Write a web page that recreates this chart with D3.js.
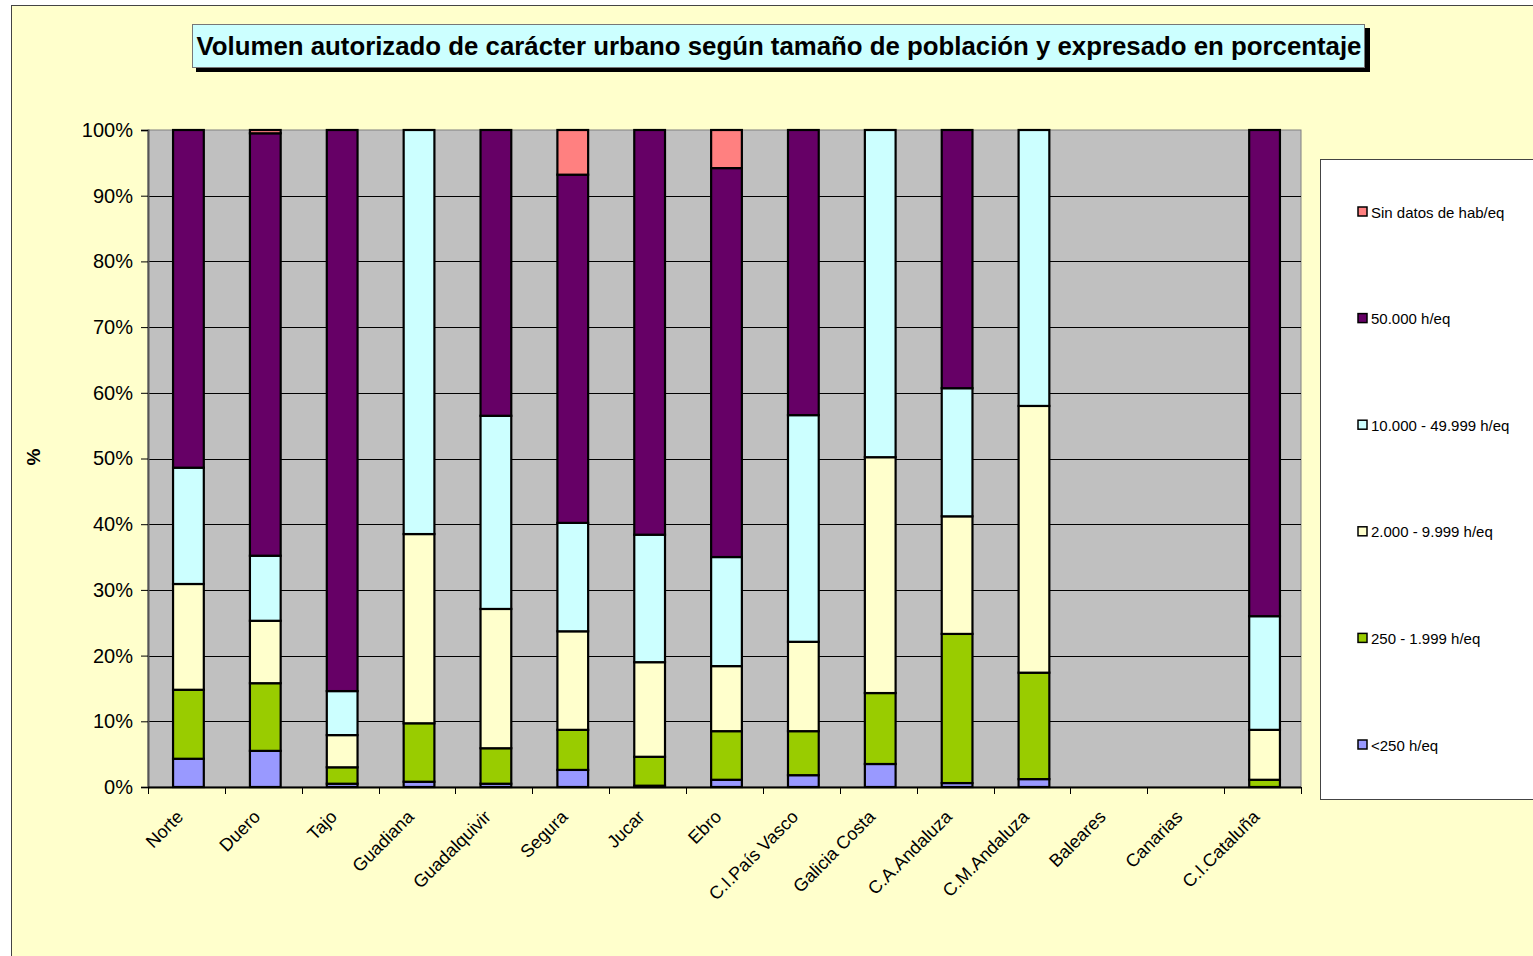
<!DOCTYPE html>
<html>
<head>
<meta charset="utf-8">
<script src="https://cdn.jsdelivr.net/npm/d3@7"></script>
<style>
  body { margin: 0; background: #fff; }
  text { font-family: Arial, "Liberation Sans", sans-serif; }
</style>
</head>
<body>
<script>
// Volumen autorizado de caracter urbano, % por tamano de poblacion

var categories = ["Norte", "Duero", "Tajo", "Guadiana", "Guadalquivir", "Segura", "Jucar", "Ebro",
  "C.I.País Vasco", "Galicia Costa", "C.A.Andaluza", "C.M.Andaluza", "Baleares", "Canarias", "C.I.Cataluña"];

var seriesNames = ["<250 h/eq", "250 - 1.999 h/eq", "2.000 - 9.999 h/eq", "10.000 - 49.999 h/eq", "50.000 h/eq", "Sin datos de hab/eq"];
var seriesColors = ["#9999FF", "#99CC00", "#FFFFCC", "#CCFFFF", "#660066", "#FF8080"];

// values per series, one per category (percent)
var menos250   = [4.3, 5.5, 0.5, 0.8, 0.5, 2.6, 0.2, 1.1, 1.8, 3.5, 0.6, 1.2, 0, 0, 0];
var de250      = [10.5, 10.3, 2.5, 8.9, 5.4, 6.1, 4.4, 7.4, 6.7, 10.8, 22.7, 16.2, 0, 0, 1.1];
var de2000     = [16.1, 9.5, 4.9, 28.8, 21.2, 15.0, 14.4, 9.9, 13.6, 35.9, 17.9, 40.6, 0, 0, 7.6];
var de10000    = [17.7, 9.9, 6.7, 61.5, 29.4, 16.5, 19.4, 16.6, 34.5, 49.8, 19.5, 42.0, 0, 0, 17.3];
var mas50000   = [51.4, 64.3, 85.4, 0, 43.5, 53.0, 61.6, 59.2, 43.4, 0, 39.3, 0, 0, 0, 74.0];
var sinDatos   = [0, 0.5, 0, 0, 0, 6.8, 0, 5.8, 0, 0, 0, 0, 0, 0, 0];

var yTicks = [0, 10, 20, 30, 40, 50, 60, 70, 80, 90, 100];

var width = 1533, height = 956;
var plot = {left: 148, top: 130, right: 1301, bottom: 787};

var svg = d3.select("body").append("svg")
  .attr("width", width)
  .attr("height", height);

// chart area background
svg.append("rect")
  .attr("x", 11.5).attr("y", 5.5)
  .attr("width", width + 20).attr("height", height + 20)
  .attr("fill", "#FFFFCC")
  .attr("stroke", "#444").attr("stroke-width", 1);

// title box with shadow
svg.append("rect")
  .attr("x", 196).attr("y", 28)
  .attr("width", 1174).attr("height", 44)
  .attr("fill", "#000");
svg.append("rect")
  .attr("x", 192.5).attr("y", 24.5)
  .attr("width", 1172).attr("height", 43)
  .attr("fill", "#CCFFFF")
  .attr("stroke", "#777").attr("stroke-width", 1);
svg.append("text")
  .attr("x", 779).attr("y", 55)
  .attr("text-anchor", "middle")
  .attr("font-size", 25.8).attr("font-weight", "bold")
  .text("Volumen autorizado de carácter urbano según tamaño de población y expresado en porcentaje");

// bars sit ~2px right of the band centres in the original
var x = d3.scaleBand()
  .domain(categories)
  .range([plot.left + 2, plot.right + 2])
  .paddingInner(0.6).paddingOuter(0.3);

var xOuter = d3.scaleBand()
  .domain(categories)
  .range([plot.left, plot.right]);

var y = d3.scaleLinear()
  .domain([0, 100])
  .range([plot.bottom, plot.top]);

// plot background
svg.append("rect")
  .attr("x", plot.left).attr("y", plot.top)
  .attr("width", plot.right - plot.left).attr("height", plot.bottom - plot.top)
  .attr("fill", "#C0C0C0")
  .attr("stroke", "#808080").attr("stroke-width", 1);

// gridlines
svg.append("g").selectAll("line")
  .data(yTicks.filter(function(d) { return d > 0 && d < 100; }))
  .enter().append("line")
  .attr("x1", plot.left).attr("x2", plot.right)
  .attr("y1", function(d) { return Math.round(y(d)) + 0.5; })
  .attr("y2", function(d) { return Math.round(y(d)) + 0.5; })
  .attr("stroke", "#000").attr("stroke-width", 1);

// stack the series
var table = categories.map(function(c, i) {
  return {cat: c, s0: menos250[i], s1: de250[i], s2: de2000[i], s3: de10000[i], s4: mas50000[i], s5: sinDatos[i]};
});
var keys = ["s0", "s1", "s2", "s3", "s4", "s5"];
var stacked = d3.stack().keys(keys)(table);

svg.append("g").selectAll("g")
  .data(stacked)
  .enter().append("g")
  .attr("fill", function(d, i) { return seriesColors[i]; })
  .selectAll("rect")
  .data(function(d) { return d.filter(function(p) { return p[1] - p[0] > 0; }); })
  .enter().append("rect")
  .attr("x", function(d) { return x(d.data.cat); })
  .attr("y", function(d) { return y(d[1]); })
  .attr("width", x.bandwidth())
  .attr("height", function(d) { return y(d[0]) - y(d[1]); })
  .attr("stroke", "#000").attr("stroke-width", 2.2);

// y axis
var yAxis = svg.append("g")
  .attr("transform", "translate(" + plot.left + ",0)")
  .call(d3.axisLeft(y).tickValues(yTicks).tickSize(7).tickPadding(8)
    .tickFormat(function(d) { return d + "%"; }));
yAxis.select(".domain").attr("stroke", "#555").attr("stroke-width", 2);
yAxis.selectAll(".tick line").attr("stroke", "#000");
yAxis.selectAll(".tick text")
  .attr("font-size", 20).attr("font-family", "Arial, 'Liberation Sans', sans-serif")
  .attr("fill", "#000");

// x axis line and ticks at category boundaries
var boundaries = categories.map(function(c) { return xOuter(c); }).concat([plot.right]);
svg.append("line")
  .attr("x1", plot.left).attr("x2", plot.right)
  .attr("y1", plot.bottom + 0.5).attr("y2", plot.bottom + 0.5)
  .attr("stroke", "#000").attr("stroke-width", 2);
svg.append("g").selectAll("line")
  .data(boundaries)
  .enter().append("line")
  .attr("x1", function(d) { return Math.round(d) + 0.5; })
  .attr("x2", function(d) { return Math.round(d) + 0.5; })
  .attr("y1", plot.bottom).attr("y2", plot.bottom + 7)
  .attr("stroke", "#000");

svg.append("g").selectAll("text")
  .data(categories)
  .enter().append("text")
  .attr("transform", function(d) {
    return "translate(" + (x(d) + x.bandwidth() / 2 - 4) + "," + (plot.bottom + 31) + ") rotate(-45)";
  })
  .attr("text-anchor", "end")
  .attr("font-size", 18)
  .text(function(d) { return d; });

// y label
svg.append("text")
  .attr("transform", "translate(40,457) rotate(-90)")
  .attr("text-anchor", "middle")
  .attr("font-size", 19).attr("font-weight", "bold")
  .text("%");

// legend
svg.append("rect")
  .attr("x", 1320.5).attr("y", 159.5)
  .attr("width", 240).attr("height", 640)
  .attr("fill", "#fff")
  .attr("stroke", "#444").attr("stroke-width", 1);

var legendY = d3.scalePoint()
  .domain(d3.range(seriesNames.length).reverse())
  .range([212, 745]);

var leg = svg.append("g").selectAll("g")
  .data(seriesNames)
  .enter().append("g")
  .attr("transform", function(d, i) { return "translate(1358," + legendY(i) + ")"; });
leg.append("rect")
  .attr("x", 0).attr("y", -5)
  .attr("width", 9).attr("height", 9)
  .attr("fill", function(d, i) { return seriesColors[i]; })
  .attr("stroke", "#000").attr("stroke-width", 1.5);
leg.append("text")
  .attr("x", 13).attr("y", 5.5)
  .attr("font-size", 15)
  .text(function(d) { return d; });
</script>
</body>
</html>
